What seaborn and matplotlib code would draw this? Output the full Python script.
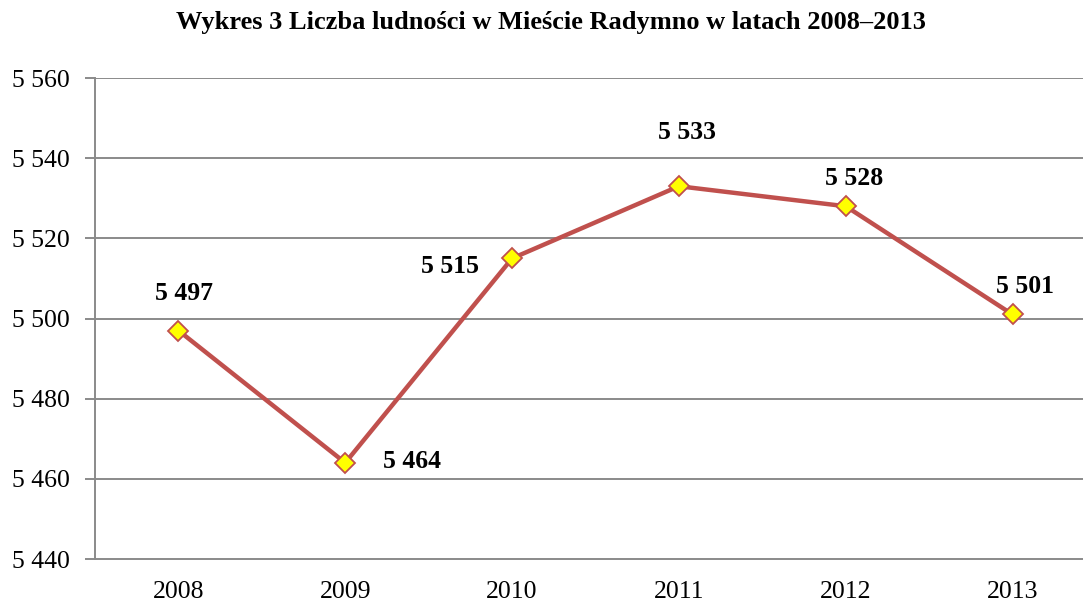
import matplotlib
matplotlib.use("Agg")
import matplotlib.pyplot as plt
import seaborn as sns
import pandas as pd
import numpy as np

# data
years = ["2008", "2009", "2010", "2011", "2012", "2013"]
population = [5497, 5464, 5515, 5533, 5528, 5501]
y_ticks = [5440, 5460, 5480, 5500, 5520, 5540, 5560]

# label offsets in points (dx, dy), per year
label_offsets = [(4, 27), (48, 1), (-45, -6), (6, 39), (6, 20), (9, 20)]

sns.set_style("white")
plt.rcParams["font.family"] = ["Liberation Serif", "DejaVu Serif"]
plt.rcParams["text.color"] = "black"
plt.rcParams["xtick.labelcolor"] = "black"
plt.rcParams["ytick.labelcolor"] = "black"

df = pd.DataFrame({"year": years, "pop": population})

fig = plt.figure(figsize=(10.83, 6.03), dpi=100)
ax = fig.add_axes([95 / 1083, 1 - 559 / 603, 1001 / 1083, 481 / 603])

grid_col = "#8a8a8a"
for t in y_ticks[1:]:
    ax.axhline(t, color=grid_col, lw=1.4, zorder=0)

sns.lineplot(data=df, x="year", y="pop", ax=ax, sort=False,
             color="#C0504D", lw=3.2, marker="D", markersize=10,
             markerfacecolor="#FFFF00", markeredgecolor="#C0504D",
             markeredgewidth=1.3, zorder=3)

fmt = lambda v: f"{v:,}".replace(",", " ")
for i, (yr, v) in enumerate(zip(years, population)):
    dx, dy = label_offsets[i]
    ax.annotate(fmt(v), (i, v), xytext=(dx, dy), textcoords="offset points",
                ha="center", va="center", fontsize=18.5, fontweight="bold",
                color="black")

ax.set_xlim(-0.5, len(years) - 0.5)
ax.set_ylim(y_ticks[0], y_ticks[-1])
ax.set_yticks(y_ticks)
ax.set_yticklabels([fmt(t) for t in y_ticks])
ax.set_xticks(range(len(years)))
ax.set_xticklabels(years)
ax.set_xticks(np.arange(-0.5, len(years)), minor=True)
ax.tick_params(axis="x", which="major", length=0, labelsize=18.5, pad=16)
ax.tick_params(axis="x", which="minor", length=7, color=grid_col, width=1.4, direction="out")
ax.tick_params(axis="y", length=7, color=grid_col, width=1.4, labelsize=18.5, pad=11, left=True)
ax.set_xlabel("")
ax.set_ylabel("")

for s in ["top", "right"]:
    ax.spines[s].set_visible(False)
for s in ["left", "bottom"]:
    ax.spines[s].set_color(grid_col)
    ax.spines[s].set_linewidth(1.4)

fig.text(551 / 1083, 1 - 22 / 603, "Wykres 3 Liczba ludności w Mieście Radymno w latach 2008–2013",
         ha="center", va="center", fontsize=19, fontweight="bold", color="black")

fig.savefig("out.png", dpi=100)
